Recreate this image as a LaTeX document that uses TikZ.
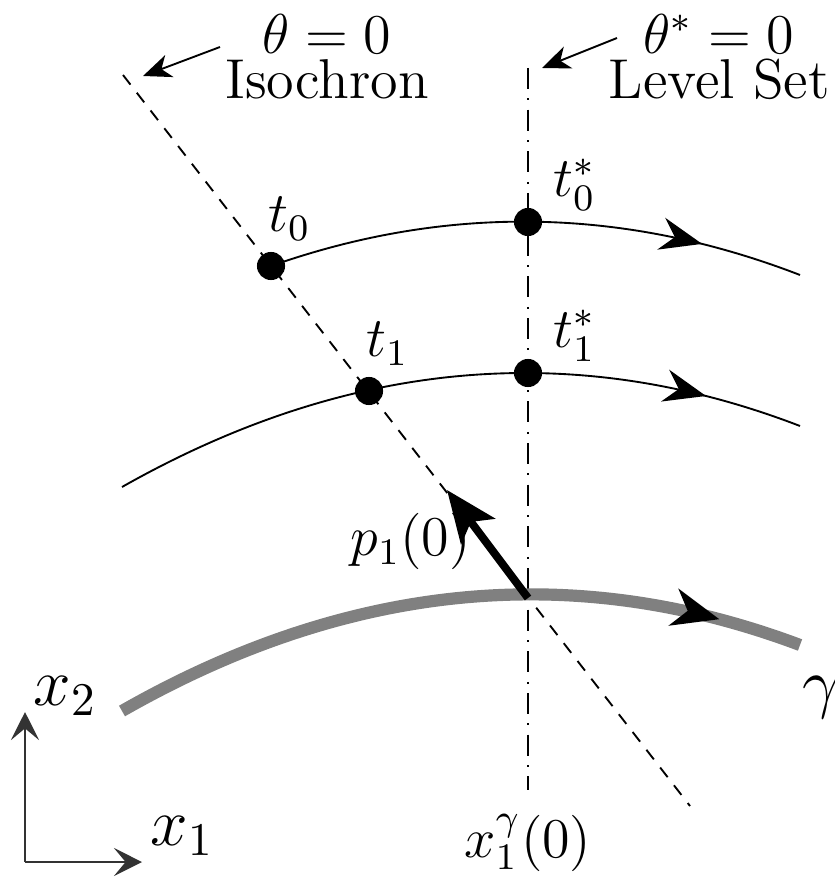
\documentclass[tikz,border=0pt]{standalone}
\usetikzlibrary{arrows.meta,decorations.markings,positioning}
\tikzset{
    dotnode/.style={circle, fill=black, inner sep=0pt, minimum size=6pt},  % puntos sobre las trayectorias
    labeltext/.style={inner sep=1pt, font=\large},
    headtext/.style={inner sep=0pt, font=\large, align=center},
    bigtext/.style={inner sep=1pt, font=\Large},
    isochron/.style={thin, dash pattern=on 2.6pt off 2.2pt},
    levelset/.style={thin, dash pattern=on 4.5pt off 2pt on 0.4pt off 2pt},
    trajectory/.style={thin, postaction={decorate},
        decoration={markings, mark=at position #1 with {\arrow{Stealth[length=9pt,width=7pt,inset=3pt]}}}},
    limitcycle/.style={line width=2.6pt, draw=black!50, postaction={decorate},
        decoration={markings, mark=at position #1 with {\arrow[black]{Stealth[length=10pt,width=8pt,inset=3pt]}}}},
    labelarrow/.style={thin, -{Stealth[length=6pt,width=5pt,inset=1.8pt]}},
    axisarrow/.style={thin, draw=black!80, -{Stealth[length=6pt,width=6pt,inset=2.5pt]}},
    normalarrow/.style={line width=1.7pt, -{Stealth[length=11pt,width=9pt,inset=2.5pt]}}
}
\begin{document}
\begin{tikzpicture}[x=0.0075cm, y=-0.0075cm]
    \useasboundingbox (0,0) rectangle (835,881);
    % rectas: isocrona y conjunto de nivel
    \coordinate (isotop) at (123,75);
    \coordinate (isobot) at (690,806);
    \coordinate (lstop) at (528,68);
    \coordinate (lsbot) at (528,790);
    \draw[isochron] (isotop) -- (isobot);
    \draw[levelset] (lstop) -- (lsbot);
    % trayectorias
    \coordinate (c0start) at (271,266);
    \coordinate (c0end) at (800,275);
    \coordinate (c1start) at (122,487);
    \coordinate (c1end) at (800,426);
    \coordinate (gstart) at (122,711);
    \coordinate (gend) at (800,645);
    \coordinate (base) at (528,598);
    \draw[trajectory=0.81] (c0start) .. controls (447,204) and (624,207) .. (c0end);
    \draw[trajectory=0.86] (c1start) .. controls (348,359) and (574,339) .. (c1end);
    \draw[limitcycle=0.88] (gstart) .. controls (348,582) and (574,560) .. (gend);
    % puntos
    \node[dotnode] (t0) at (271,266) {};
    \node[dotnode] (t0s) at (528,222) {};
    \node[dotnode] (t1) at (369,391) {};
    \node[dotnode] (t1s) at (528,373) {};
    \node[labeltext, above right=2pt and -4pt of t0] (t0lab) {$t_0$};
    \node[labeltext, above right=-1pt and 2pt of t0s] (t0slab) {$t_0^*$};
    \node[labeltext, above right=2pt and -4pt of t1] (t1lab) {$t_1$};
    \node[labeltext, above right=-1pt and 2pt of t1s] (t1slab) {$t_1^*$};
    % gradiente
    \coordinate (ptip) at (447,490);
    \draw[normalarrow] (base) -- (ptip);
    \node[labeltext, left=11pt of base, yshift=12pt] (plab) {$p_1(0)$};
    % etiquetas superiores
    \node[headtext] (isolabel) at (327,57) {$\theta=0$\\[-4.3pt]Isochron};
    \node[headtext] (lslabel) at (719,57) {$\theta^*=0$\\[-4.3pt]Level Set};
    \coordinate (isofrom) at (220,47);
    \coordinate (isoto) at (143,76);
    \coordinate (lsfrom) at (617,38);
    \coordinate (lsto) at (542,68);
    \draw[labelarrow] (isofrom) -- (isoto);
    \draw[labelarrow] (lsfrom) -- (lsto);
    % ejes
    \coordinate (origin) at (25,862);
    \coordinate (x2tip) at (25,712);
    \coordinate (x1tip) at (142,862);
    \draw[axisarrow] (origin) -- (x2tip);
    \draw[axisarrow] (origin) -- (x1tip);
    \node[bigtext, anchor=base west] (x2lab) at (28,705) {$x_2$};
    \node[bigtext, anchor=base west] (x1lab) at (145,845) {$x_1$};
    \node[bigtext, anchor=base west] (gammalab) at (797,705) {$\gamma$};
    \node[labeltext, below=4pt of lsbot] (xlab) {$x_1^\gamma(0)$};
\end{tikzpicture}
\end{document}
